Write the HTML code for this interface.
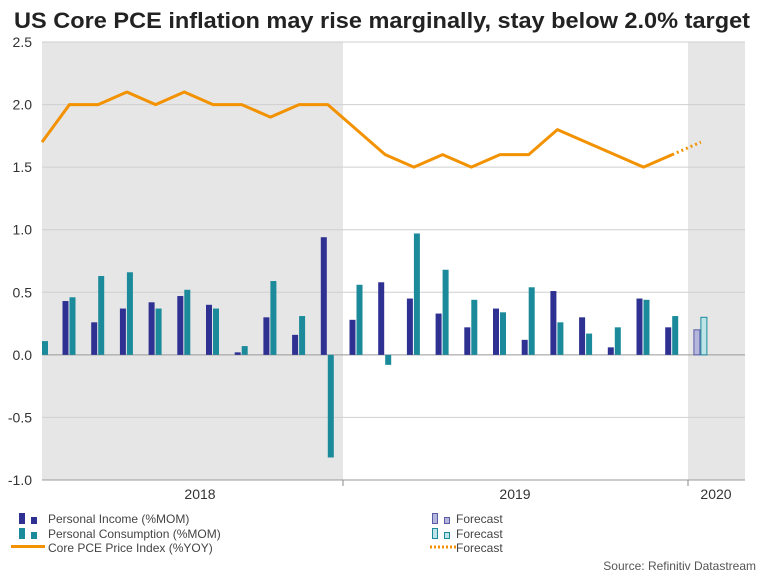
<!DOCTYPE html>
<html><head><meta charset="utf-8"><style>
body{margin:0;background:#fff;font-family:"Liberation Sans",sans-serif;}
svg text{font-family:"Liberation Sans",sans-serif;}
</style></head><body>
<svg id="c" width="768" height="576" xmlns="http://www.w3.org/2000/svg">
<text x="14" y="28" textLength="736" lengthAdjust="spacingAndGlyphs" font-size="22" font-weight="bold" fill="#222">US Core PCE inflation may rise marginally, stay below 2.0% target</text>
<g id="bg"></g><g id="grid"></g><g id="bars"></g><g id="lines"></g><g id="axes"></g>
<g font-size="12" fill="#333">
<rect x="19" y="513" width="6" height="11" fill="#2e3192"/><rect x="31" y="517" width="6" height="7" fill="#2e3192"/>
<text x="48" y="523" fill="#444">Personal Income (%MOM)</text>
<rect x="19" y="528" width="6" height="11" fill="#1b8a9a"/><rect x="31" y="532" width="6" height="7" fill="#1b8a9a"/>
<text x="48" y="538" fill="#444">Personal Consumption (%MOM)</text>
<rect x="11" y="545" width="34" height="3" fill="#f39200"/>
<text x="48" y="552" fill="#444">Core PCE Price Index (%YOY)</text>
<rect x="432.5" y="513.5" width="5" height="10" fill="#b4b6dc" stroke="#5a5ca8"/><rect x="444.5" y="517.5" width="5" height="6" fill="#b4b6dc" stroke="#5a5ca8"/>
<text x="456" y="523" fill="#444">Forecast</text>
<rect x="432.5" y="528.5" width="5" height="10" fill="#bfe4e8" stroke="#1b8a9a"/><rect x="444.5" y="532.5" width="5" height="6" fill="#bfe4e8" stroke="#1b8a9a"/>
<text x="456" y="538" fill="#444">Forecast</text>
<line x1="430" y1="547" x2="456" y2="547" stroke="#f39200" stroke-width="3" stroke-dasharray="2,2"/>
<text x="456" y="552" fill="#444">Forecast</text>
</g>
<text x="756" y="570" text-anchor="end" font-size="12" fill="#555">Source: Refinitiv Datastream</text>
</svg>
<script>
const yTicks=[2.5,2.0,1.5,1.0,0.5,0.0,-0.5,-1.0];
const yLabels=["2.5","2.0","1.5","1.0","0.5","0.0","-0.5","-1.0"];
const years=["2018","2019","2020"];
const income=[null,0.43,0.26,0.37,0.42,0.47,0.40,0.02,0.30,0.16,0.94,0.28,0.58,0.45,0.33,0.22,0.37,0.12,0.51,0.30,0.06,0.45,0.22];
const consumption=[0.11,0.46,0.63,0.66,0.37,0.52,0.37,0.07,0.59,0.31,-0.82,0.56,-0.08,0.97,0.68,0.44,0.34,0.54,0.26,0.17,0.22,0.44,0.31];
const incomeForecast=[0.20];
const consumptionForecast=[0.30];
const corePce=[1.7,2.0,2.0,2.1,2.0,2.1,2.0,2.0,1.9,2.0,2.0,1.8,1.6,1.5,1.6,1.5,1.6,1.6,1.8,1.7,1.6,1.5,1.6];
const corePceForecast=[1.6,1.7];
const NS="http://www.w3.org/2000/svg";
const L=42,R=745,T=42,B=480;
const y=v=>T+(2.5-v)*(B-T)/3.5;
const x=i=>40.8+28.7*i; // i=0 Feb 2018
function mk(p,tag,a){const e=document.createElementNS(NS,tag);for(const k in a)e.setAttribute(k,a[k]);document.getElementById(p).appendChild(e);return e;}
let e;
e=mk('bg','rect',{x:L,y:T,width:343-L,height:B-T,fill:'#e6e6e6'});


e=mk('bg','rect',{x:688,y:T,width:R-688,height:B-T,fill:'#e6e6e6'});


yTicks.forEach((v,k)=>{
 e=mk('grid','line',{x1:L,x2:R,y1:y(v),y2:y(v),stroke:v===0?'#999':'#cfcfcf','stroke-width':1});
 
 
 e=mk('axes','text',{x:32,y:y(v)+5,'text-anchor':'end','font-size':14,fill:'#333'});e.textContent=yLabels[k];
 
 
});
function bar(v,xc,fill,stroke,name){
 const y0=y(0),y1=y(v);
 const a={x:xc,y:Math.min(y0,y1),width:6,height:Math.max(Math.abs(y1-y0),0.5),fill:fill};
 if(stroke){a.stroke=stroke;a['stroke-width']=1;}
 const r=mk('bars','rect',a);
 
 
}
income.forEach((v,i)=>{if(v!==null)bar(v,x(i)-7,'#2e3192',null,'income-bar');});
consumption.forEach((v,i)=>{if(x(i)+6>L)bar(v,Math.max(x(i),L),'#1b8a9a',null,'consumption-bar');});
incomeForecast.forEach((v,j)=>bar(v,x(23+j)-7,'#b4b6dc','#5a5ca8','income-forecast-bar'));
consumptionForecast.forEach((v,j)=>bar(v,x(23+j),'#bfe4e8','#1b8a9a','consumption-forecast-bar'));
let pts=corePce.map((v,i)=>[Math.max(x(i),L),y(v)].join(',')).join(' ');
e=mk('lines','polyline',{points:pts,fill:'none',stroke:'#f39200','stroke-width':3,'stroke-linejoin':'round'});


pts=corePceForecast.map((v,j)=>[x(22+j),y(v)].join(',')).join(' ');
e=mk('lines','polyline',{points:pts,fill:'none',stroke:'#f39200','stroke-width':3,'stroke-dasharray':'2,3'});


e=mk('axes','line',{x1:L,x2:R,y1:B,y2:B,stroke:'#999'});


[343,688].forEach(px=>{e=mk('axes','line',{x1:px,x2:px,y1:B,y2:B+6,stroke:'#888'});
 
 });
[200,515,716].forEach((px,k)=>{e=mk('axes','text',{x:px,y:499,'text-anchor':'middle','font-size':14,fill:'#333'});e.textContent=years[k];
 
 });
</script>
</body></html>
